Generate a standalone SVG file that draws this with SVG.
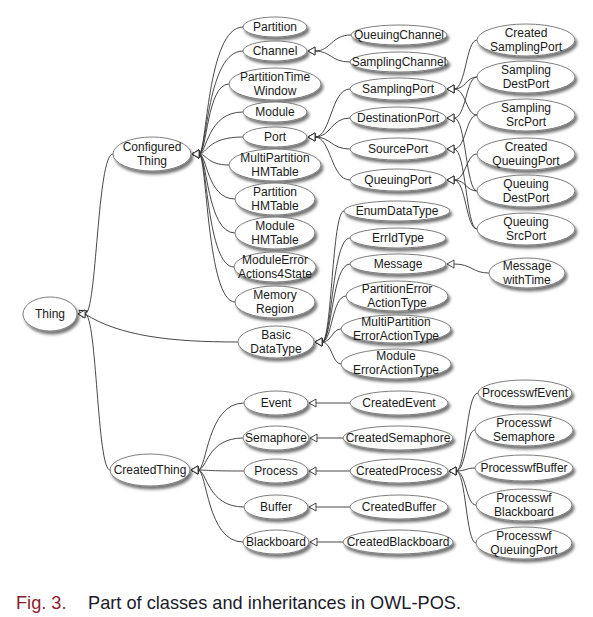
<svg xmlns="http://www.w3.org/2000/svg" width="593" height="617" viewBox="0 0 593 617">
<style>
  .n ellipse { fill: #fff; stroke: #7e7e7e; stroke-width: 1; filter: url(#sh); }
  .n text { font-family: "Liberation Sans", Arial, sans-serif; font-size: 12px; fill: #1a1a1a; text-anchor: middle; }
  #connectors path { fill: none; stroke: #333; stroke-width: 0.9; marker-start: url(#inh); }
  .cap { font-family: "Liberation Sans", Arial, sans-serif; font-size: 18.2px; }
</style>
<defs>
  <filter id="sh" x="-20%" y="-40%" width="150%" height="190%">
    <feGaussianBlur in="SourceAlpha" stdDeviation="1.4"/>
    <feOffset dx="2" dy="3" result="o"/>
    <feComponentTransfer><feFuncA type="linear" slope="0.55"/></feComponentTransfer>
    <feMerge><feMergeNode/><feMergeNode in="SourceGraphic"/></feMerge>
  </filter>
  <!-- hollow inheritance triangle, tip points at the superclass -->
  <marker id="inh" markerUnits="userSpaceOnUse" markerWidth="10" markerHeight="10" refX="0" refY="4" orient="auto-start-reverse" style="overflow:visible">
    <path d="M0,0 L7,4 L0,8 Z" fill="#fff" stroke="#333" stroke-width="0.9"/>
  </marker>
</defs>
<rect width="593" height="617" fill="#fff"/>

<g id="connectors">
  <!-- Thing -->
  <path d="M85 314 C97 314,97 154,113 154"/>
  <path d="M85 314 C120 336,170 342,238 342"/>
  <path d="M85 314 C97 314,97 470,110 470"/>
  <!-- ConfiguredThing -->
  <path d="M199 154 C207 154,207 27,243 27"/>
  <path d="M199 154 C207 154,207 51,243 51"/>
  <path d="M199 154 C207 154,207 84,229 84"/>
  <path d="M199 154 C207 154,207 112,243 112"/>
  <path d="M199 154 C207 154,207 137,243 137"/>
  <path d="M199 154 C207 154,207 165,229 165"/>
  <path d="M199 154 C207 154,207 199,235 199"/>
  <path d="M199 154 C207 154,207 233,235 233"/>
  <path d="M199 154 C207 154,207 267,234 267"/>
  <path d="M199 154 C207 154,207 302,235 302"/>
  <!-- CreatedThing -->
  <path d="M198 470 C207 470,207 403,244 403"/>
  <path d="M198 470 C207 470,207 438,243 438"/>
  <path d="M198 470 C207 470,207 471,244 471"/>
  <path d="M198 470 C207 470,207 507,244 507"/>
  <path d="M198 470 C207 470,207 542,243 542"/>
  <!-- Channel -->
  <path d="M315 51 C331 51,331 35,351 35"/>
  <path d="M315 51 C331 51,331 62,350 62"/>
  <!-- Port -->
  <path d="M315 137 C331 137,331 89,350 89"/>
  <path d="M315 137 C331 137,331 118,350 118"/>
  <path d="M315 137 C331 137,331 149,350 149"/>
  <path d="M315 137 C331 137,331 180,350 180"/>
  <!-- BasicDataType -->
  <path d="M322 342 C332 342,332 211,344 211"/>
  <path d="M322 342 C332 342,332 238,350 238"/>
  <path d="M322 342 C332 342,332 264,350 264"/>
  <path d="M322 342 C332 342,332 296,346 296"/>
  <path d="M322 342 C332 342,332 329,341 329"/>
  <path d="M322 342 C332 342,332 364,341 364"/>
  <!-- Message -->
  <path d="M454 264 C472 264,472 273,489 273"/>
  <!-- SamplingPort -->
  <path d="M454 89 C466 89,466 40,477 40"/>
  <path d="M454 89 C466 89,466 77,477 77"/>
  <path d="M454 89 C466 89,466 115,477 115"/>
  <!-- DestinationPort -->
  <path d="M454 118 C466 118,466 77,477 77"/>
  <path d="M454 118 C466 118,466 191,477 191"/>
  <!-- SourcePort -->
  <path d="M454 149 C466 149,466 115,477 115"/>
  <path d="M454 149 C466 149,466 229,477 229"/>
  <!-- QueuingPort -->
  <path d="M454 180 C466 180,466 154,477 154"/>
  <path d="M454 180 C466 180,466 191,477 191"/>
  <path d="M454 180 C466 180,466 229,477 229"/>
  <!-- created kernel objects -->
  <path d="M316 403 L350 403"/>
  <path d="M317 438 L343 438"/>
  <path d="M316 471 L350 471"/>
  <path d="M316 507 L350 507"/>
  <path d="M317 542 L343 542"/>
  <!-- CreatedProcess -->
  <path d="M456 471 C466 471,466 393,478 393"/>
  <path d="M456 471 C466 471,466 430,475 430"/>
  <path d="M456 471 C466 471,466 468,475 468"/>
  <path d="M456 471 C466 471,466 505,476 505"/>
  <path d="M456 471 C466 471,466 543,476 543"/>
</g>

<g id="thing" class="n"><ellipse cx="50" cy="314" rx="27" ry="17"/><text x="50" y="318">Thing</text></g>
<g id="configured-thing" class="n"><ellipse cx="152" cy="154" rx="39" ry="17"/><text x="152" y="151">Configured<tspan x="152" dy="14">Thing</tspan></text></g>
<g id="created-thing" class="n"><ellipse cx="150" cy="470" rx="40" ry="16"/><text x="150" y="474">CreatedThing</text></g>

<g id="partition" class="n"><ellipse cx="275" cy="27" rx="32" ry="10"/><text x="275" y="31">Partition</text></g>
<g id="channel" class="n"><ellipse cx="275" cy="51" rx="32" ry="10"/><text x="275" y="55">Channel</text></g>
<g id="partition-time-window" class="n"><ellipse cx="275" cy="84" rx="46" ry="16"/><text x="275" y="81">PartitionTime<tspan x="275" dy="14">Window</tspan></text></g>
<g id="module" class="n"><ellipse cx="275" cy="112" rx="32" ry="10"/><text x="275" y="116">Module</text></g>
<g id="port" class="n"><ellipse cx="275" cy="137" rx="32" ry="10"/><text x="275" y="141">Port</text></g>
<g id="multipartition-hmtable" class="n"><ellipse cx="275" cy="165" rx="46" ry="16"/><text x="275" y="162">MultiPartition<tspan x="275" dy="14">HMTable</tspan></text></g>
<g id="partition-hmtable" class="n"><ellipse cx="275" cy="199" rx="40" ry="16"/><text x="275" y="196">Partition<tspan x="275" dy="14">HMTable</tspan></text></g>
<g id="module-hmtable" class="n"><ellipse cx="275" cy="233" rx="40" ry="16"/><text x="275" y="230">Module<tspan x="275" dy="14">HMTable</tspan></text></g>
<g id="module-error-actions" class="n"><ellipse cx="275" cy="267" rx="41" ry="15"/><text x="275" y="264">ModuleError<tspan x="275" dy="13.5">Actions4State</tspan></text></g>
<g id="memory-region" class="n"><ellipse cx="275" cy="302" rx="40" ry="16"/><text x="275" y="299">Memory<tspan x="275" dy="14">Region</tspan></text></g>
<g id="basic-datatype" class="n"><ellipse cx="276" cy="342" rx="38" ry="16"/><text x="276" y="339">Basic<tspan x="276" dy="14">DataType</tspan></text></g>

<g id="queuing-channel" class="n"><ellipse cx="399" cy="35" rx="48" ry="10"/><text x="399" y="39">QueuingChannel</text></g>
<g id="sampling-channel" class="n"><ellipse cx="399" cy="62" rx="49" ry="10"/><text x="399" y="66">SamplingChannel</text></g>

<g id="sampling-port" class="n"><ellipse cx="398" cy="89" rx="48" ry="11"/><text x="398" y="93">SamplingPort</text></g>
<g id="destination-port" class="n"><ellipse cx="398" cy="118" rx="48" ry="11"/><text x="398" y="122">DestinationPort</text></g>
<g id="source-port" class="n"><ellipse cx="398" cy="149" rx="48" ry="11"/><text x="398" y="153">SourcePort</text></g>
<g id="queuing-port" class="n"><ellipse cx="398" cy="180" rx="48" ry="11"/><text x="398" y="184">QueuingPort</text></g>

<g id="created-sampling-port" class="n"><ellipse cx="526" cy="40" rx="49" ry="16"/><text x="526" y="37">Created<tspan x="526" dy="14">SamplingPort</tspan></text></g>
<g id="sampling-dest-port" class="n"><ellipse cx="526" cy="77" rx="49" ry="16"/><text x="526" y="74">Sampling<tspan x="526" dy="14">DestPort</tspan></text></g>
<g id="sampling-src-port" class="n"><ellipse cx="526" cy="115" rx="49" ry="16"/><text x="526" y="112">Sampling<tspan x="526" dy="14">SrcPort</tspan></text></g>
<g id="created-queuing-port" class="n"><ellipse cx="526" cy="154" rx="49" ry="16"/><text x="526" y="151">Created<tspan x="526" dy="14">QueuingPort</tspan></text></g>
<g id="queuing-dest-port" class="n"><ellipse cx="526" cy="191" rx="49" ry="16"/><text x="526" y="188">Queuing<tspan x="526" dy="14">DestPort</tspan></text></g>
<g id="queuing-src-port" class="n"><ellipse cx="526" cy="229" rx="49" ry="16"/><text x="526" y="226">Queuing<tspan x="526" dy="14">SrcPort</tspan></text></g>

<g id="enum-datatype" class="n"><ellipse cx="397" cy="211" rx="53" ry="10"/><text x="397" y="215">EnumDataType</text></g>
<g id="errid-type" class="n"><ellipse cx="398" cy="238" rx="48" ry="10"/><text x="398" y="242">ErrIdType</text></g>
<g id="message" class="n"><ellipse cx="398" cy="264" rx="48" ry="10"/><text x="398" y="268">Message</text></g>
<g id="partition-error-action-type" class="n"><ellipse cx="397" cy="296" rx="51" ry="15"/><text x="397" y="293">PartitionError<tspan x="397" dy="14">ActionType</tspan></text></g>
<g id="multipartition-error-action-type" class="n"><ellipse cx="396" cy="329" rx="55" ry="14"/><text x="396" y="326">MultiPartition<tspan x="396" dy="14">ErrorActionType</tspan></text></g>
<g id="module-error-action-type" class="n"><ellipse cx="396" cy="364" rx="55" ry="15"/><text x="396" y="360">Module<tspan x="396" dy="14">ErrorActionType</tspan></text></g>

<g id="message-with-time" class="n"><ellipse cx="527" cy="273" rx="38" ry="15"/><text x="527" y="270">Message<tspan x="527" dy="14">withTime</tspan></text></g>

<g id="event" class="n"><ellipse cx="276" cy="403" rx="32" ry="12"/><text x="276" y="407">Event</text></g>
<g id="semaphore" class="n"><ellipse cx="276" cy="438" rx="33" ry="12"/><text x="276" y="442">Semaphore</text></g>
<g id="process" class="n"><ellipse cx="276" cy="471" rx="32" ry="12"/><text x="276" y="475">Process</text></g>
<g id="buffer" class="n"><ellipse cx="276" cy="507" rx="32" ry="12"/><text x="276" y="511">Buffer</text></g>
<g id="blackboard" class="n"><ellipse cx="276" cy="542" rx="33" ry="12"/><text x="276" y="546">Blackboard</text></g>

<g id="created-event" class="n"><ellipse cx="399" cy="403" rx="49" ry="12"/><text x="399" y="407">CreatedEvent</text></g>
<g id="created-semaphore" class="n"><ellipse cx="398" cy="438" rx="55" ry="12"/><text x="398" y="442">CreatedSemaphore</text></g>
<g id="created-process" class="n"><ellipse cx="399" cy="471" rx="49" ry="12"/><text x="399" y="475">CreatedProcess</text></g>
<g id="created-buffer" class="n"><ellipse cx="399" cy="507" rx="49" ry="12"/><text x="399" y="511">CreatedBuffer</text></g>
<g id="created-blackboard" class="n"><ellipse cx="398" cy="542" rx="55" ry="12"/><text x="398" y="546">CreatedBlackboard</text></g>

<g id="processwf-event" class="n"><ellipse cx="525" cy="393" rx="47" ry="13"/><text x="525" y="397">ProcesswfEvent</text></g>
<g id="processwf-semaphore" class="n"><ellipse cx="524" cy="430" rx="49" ry="16"/><text x="524" y="427">Processwf<tspan x="524" dy="14">Semaphore</tspan></text></g>
<g id="processwf-buffer" class="n"><ellipse cx="524" cy="468" rx="49" ry="13"/><text x="524" y="472">ProcesswfBuffer</text></g>
<g id="processwf-blackboard" class="n"><ellipse cx="524" cy="505" rx="48" ry="16"/><text x="524" y="502">Processwf<tspan x="524" dy="14">Blackboard</tspan></text></g>
<g id="processwf-queuing-port" class="n"><ellipse cx="524" cy="543" rx="48" ry="16"/><text x="524" y="540">Processwf<tspan x="524" dy="14">QueuingPort</tspan></text></g>

<text class="cap" x="16" y="609" fill="#8b1d2f">Fig. 3.</text>
<text class="cap" x="88" y="609" fill="#1b1b2b">Part of classes and inheritances in OWL-POS.</text>
</svg>
